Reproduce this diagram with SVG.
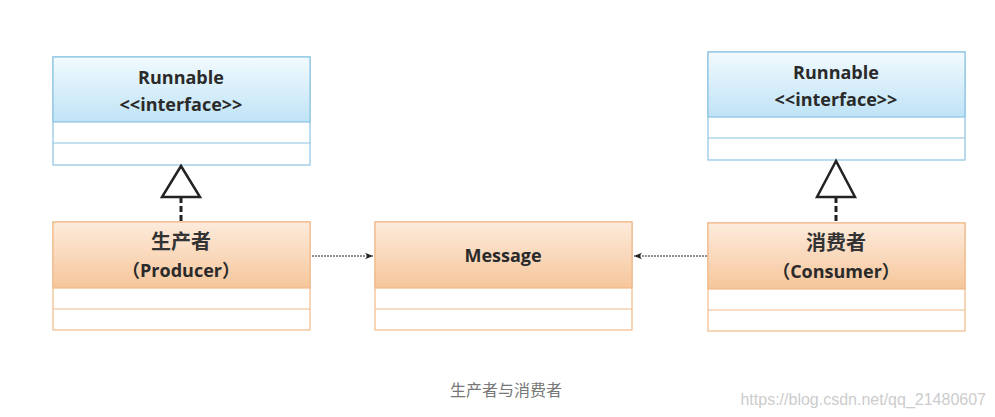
<svg xmlns="http://www.w3.org/2000/svg" width="995" height="417" viewBox="0 0 995 417">
<defs>
<linearGradient id="blue" x1="0" y1="0" x2="0" y2="1"><stop offset="0" stop-color="#f2fafe"/><stop offset="1" stop-color="#bfe3f6"/></linearGradient>
<linearGradient id="orange" x1="0" y1="0" x2="0" y2="1"><stop offset="0" stop-color="#fdebdc"/><stop offset="1" stop-color="#f6c69b"/></linearGradient>
<marker id="ah" viewBox="0 0 10 10" refX="10" refY="5" markerWidth="8" markerHeight="8" orient="auto"><path d="M0,1 L10,5 L0,9 L3,5 z" fill="#222"/></marker>
</defs>
<style>
.b{stroke:#8cc4e2;stroke-width:1.2}
.o{stroke:#f0b98a;stroke-width:1.2}
.t{font-family:"Open Sans","Noto Sans CJK SC",sans-serif;font-weight:bold;font-size:18px;fill:#2a2a2a;text-anchor:middle}
.c{font-family:"Noto Sans CJK SC",sans-serif;font-weight:bold;font-size:20px;fill:#333;text-anchor:middle}
</style>
<rect width="995" height="417" fill="#fff"/>
<g id="runnable-left">
<rect x="53" y="57" width="257" height="108" fill="#fff" class="b"/>
<rect x="53" y="57" width="257" height="65" fill="url(#blue)" class="b"/>
<line x1="53" y1="143" x2="310" y2="143" class="b"/>
<text class="t" x="181" y="84">Runnable</text>
<text class="t" x="181" y="111">&lt;&lt;interface&gt;&gt;</text>
</g>
<g id="runnable-right">
<rect x="708" y="52" width="257" height="108" fill="#fff" class="b"/>
<rect x="708" y="52" width="257" height="65" fill="url(#blue)" class="b"/>
<line x1="708" y1="138" x2="965" y2="138" class="b"/>
<text class="t" x="836" y="79">Runnable</text>
<text class="t" x="836" y="106">&lt;&lt;interface&gt;&gt;</text>
</g>
<g id="producer">
<rect x="53" y="222" width="257" height="108" fill="#fff" class="o"/>
<rect x="53" y="222" width="257" height="66" fill="url(#orange)" class="o"/>
<line x1="53" y1="309" x2="310" y2="309" class="o"/>
<text class="c" x="181" y="249">生产者</text>
<text class="t" x="181" y="277">（Producer）</text>
</g>
<g id="message">
<rect x="375" y="222" width="257" height="108" fill="#fff" class="o"/>
<rect x="375" y="222" width="257" height="66" fill="url(#orange)" class="o"/>
<line x1="375" y1="309" x2="632" y2="309" class="o"/>
<text class="t" x="503" y="262">Message</text>
</g>
<g id="consumer">
<rect x="708" y="223" width="257" height="108" fill="#fff" class="o"/>
<rect x="708" y="223" width="257" height="66" fill="url(#orange)" class="o"/>
<line x1="708" y1="310" x2="965" y2="310" class="o"/>
<text class="c" x="836" y="250">消费者</text>
<text class="t" x="836" y="278">（Consumer）</text>
</g>
<g id="connectors" fill="none" stroke="#222">
<line x1="181" y1="197" x2="181" y2="222" stroke-width="3" stroke-dasharray="6,3"/>
<polygon points="181,166 162,197 200,197" fill="#fff" stroke-width="2.5"/>
<line x1="836" y1="197" x2="836" y2="223" stroke-width="3" stroke-dasharray="6,3"/>
<polygon points="836,161 817,197 855,197" fill="#fff" stroke-width="2.5"/>
<line x1="312" y1="256" x2="373" y2="256" stroke-width="1" stroke-dasharray="2,1" marker-end="url(#ah)"/>
<line x1="707" y1="256" x2="634" y2="256" stroke-width="1" stroke-dasharray="2,1" marker-end="url(#ah)"/>
</g>
<text x="506" y="396" font-family="Noto Sans CJK SC,sans-serif" font-size="16" fill="#777" text-anchor="middle">生产者与消费者</text>
<text x="986" y="405" font-family="Liberation Sans,sans-serif" font-size="16" fill="#ccc" text-anchor="end">https://blog.csdn.net/qq_21480607</text>
</svg>
